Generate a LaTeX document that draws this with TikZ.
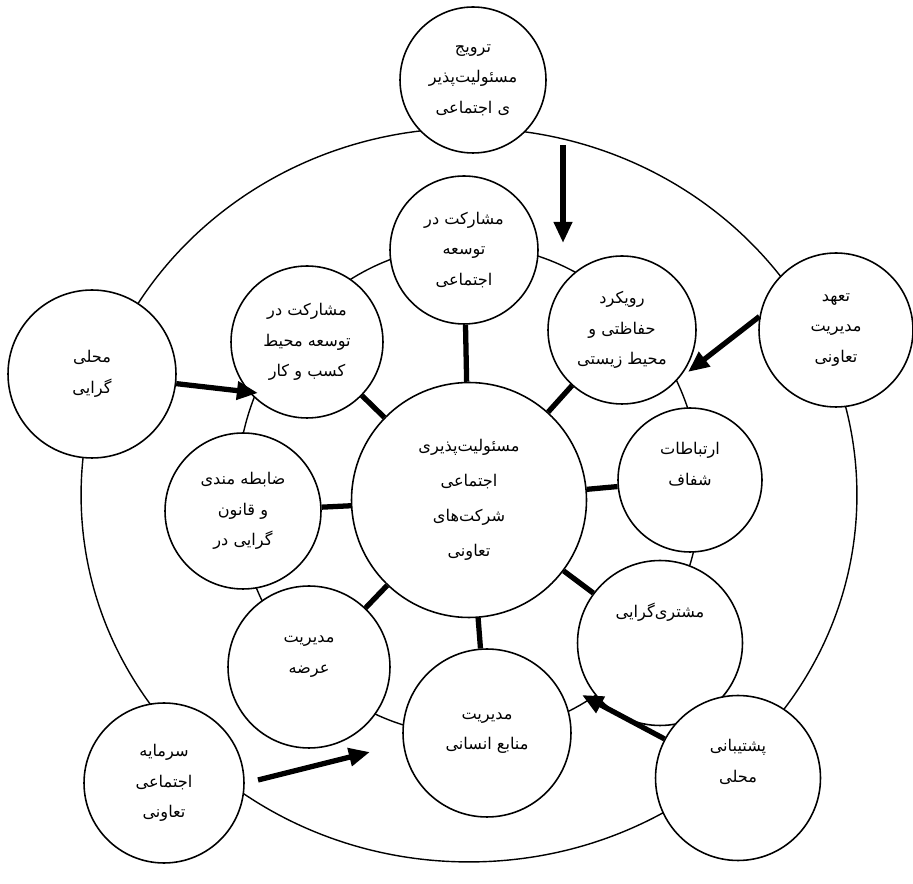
\documentclass[tikz,border=0pt]{standalone}
\usepackage{fontspec}
\newfontfamily\farsi[Script=Arabic]{DejaVu Sans}
\TeXXeTstate=1
\usetikzlibrary{arrows.meta}
\newcommand{\fa}[1]{\beginR #1\endR}

\begin{document}
\begin{tikzpicture}[x=0.02cm, y=-0.02cm,
  bub/.style={circle, draw, fill=white, line width=0.9pt, inner sep=0pt,
              align=center, font=\farsi\fontsize{9.2}{17.5}\selectfont},
  lift/.style={text depth=#1},
  ring/.style={line width=0.8pt},
  link/.style={line width=3pt},
  push/.style={-{Triangle[length=12pt, width=10pt]}, line width=3pt}]
  \useasboundingbox (0,0) rectangle (913,884);

  % rings behind the circles
  \draw[ring] (469,495) ellipse [x radius=7.76cm, y radius=7.34cm];
  \draw[ring] (469,490) ellipse [x radius=4.64cm, y radius=4.9cm];

  % centre
  \node[bub, minimum size=4.7cm, font=\farsi\fontsize{9.2}{20}\selectfont] (csr) at (469,500)
    {\fa{مسئولیت‌پذیری}\\ \fa{اجتماعی}\\ \fa{شرکت‌های}\\ \fa{تعاونی}};

  % inner circles
  \node[bub, minimum size=2.96cm] (soc) at (464,250)
    {\fa{مشارکت در}\\ \fa{توسعه}\\ \fa{اجتماعی}};
  \node[bub, minimum size=2.96cm] (env) at (622,330)
    {\fa{رویکرد}\\ \fa{حفاظتی و}\\ \fa{محیط زیستی}};
  \node[bub, minimum size=2.88cm, lift=0.65cm] (trans) at (690,480)
    {\fa{ارتباطات}\\ \fa{شفاف}};
  \node[bub, minimum size=3.3cm, lift=1.3cm] (cust) at (660,643)
    {\fa{مشتری‌گرایی}};
  \node[bub, minimum size=3.36cm] (hr) at (487,733)
    {\fa{مدیریت}\\ \fa{منابع انسانی}};
  \node[bub, minimum size=3.24cm, lift=0.5cm] (supply) at (309,667)
    {\fa{مدیریت}\\ \fa{عرضه}};
  \node[bub, minimum size=3.12cm] (law) at (243,511)
    {\fa{ضابطه مندی}\\ \fa{و قانون}\\ \fa{گرایی در}};
  \node[bub, minimum size=3.04cm] (biz) at (307,342)
    {\fa{مشارکت در}\\ \fa{توسعه محیط}\\ \fa{کسب و کار}};

  % outer circles
  \node[bub, minimum size=2.92cm] (promo) at (473,80)
    {\fa{ترویج}\\ \fa{مسئولیت‌پذیر}\\ \fa{ی اجتماعی}};
  \node[bub, minimum size=3.08cm] (commit) at (836,330)
    {\fa{تعهد}\\ \fa{مدیریت}\\ \fa{تعاونی}};
  \node[bub, minimum size=3.36cm] (local) at (92,374)
    {\fa{محلی}\\ \fa{گرایی}};
  \node[bub, minimum size=3.2cm] (capital) at (164,783)
    {\fa{سرمایه}\\ \fa{اجتماعی}\\ \fa{تعاونی}};
  \node[bub, minimum size=3.3cm, lift=0.7cm] (support) at (738,778)
    {\fa{پشتیبانی}\\ \fa{محلی}};

  % links from the centre
  \foreach \n in {soc, env, trans, cust, hr, supply, law, biz}
    \draw[link] (csr) -- (\n);

  % arrows
  \coordinate (promoA) at (563,145);
  \coordinate (promoB) at (563,243);
  \coordinate (commitB) at (688,372);
  \coordinate (localB) at (258,393);
  \coordinate (capitalA) at (258,780);
  \coordinate (capitalB) at (370,752);
  \coordinate (supportB) at (582,695);
  \draw[push] (promoA) -- (promoB);
  \draw[push] (commit.170) -- (commitB);
  \draw[push] (local) -- (localB);
  \draw[push] (capitalA) -- (capitalB);
  \draw[push] (support) -- (supportB);
\end{tikzpicture}
\end{document}
